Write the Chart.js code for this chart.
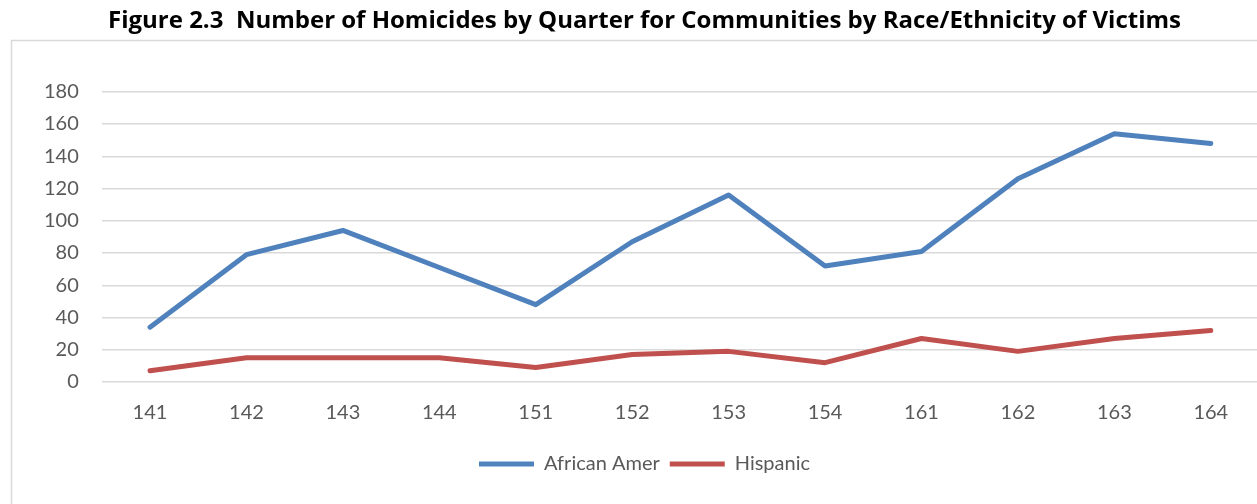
<!DOCTYPE html>
<html>
<head>
<meta charset="utf-8">
<script src="https://cdn.jsdelivr.net/npm/chart.js@4.4.1/dist/chart.umd.min.js"></script>
<style>
  html, body { margin: 0; padding: 0; overflow: hidden; background: #fff; }
  #wrap { width: 1262px; height: 504px; }
</style>
</head>
<body>
<div id="wrap"><canvas id="lineChart" width="1262" height="504"></canvas></div>
<script>
var quarters = ["141", "142", "143", "144", "151", "152", "153", "154", "161", "162", "163", "164"];
var africanAmer = [34, 79, 94, 71, 48, 87, 116, 72, 81, 126, 154, 148];
var hispanic = [7, 15, 15, 15, 9, 17, 19, 12, 27, 19, 27, 32];
var yTicks = [0, 20, 40, 60, 80, 100, 120, 140, 160, 180];

var frame = {
    id: "frame",
    beforeDraw: function(chart) {
        var ctx = chart.ctx;
        ctx.save();
        ctx.strokeStyle = "#d9d9d9";
        ctx.lineWidth = 1.5;
        ctx.strokeRect(11.5, 40.5, 1300, 500);
        ctx.restore();
    }
};

document.addEventListener("DOMContentLoaded", function() {
    var ctx1 = document.getElementById("lineChart").getContext("2d");
    var lineChart = new Chart(ctx1, {
        type: "line",
        data: {
            labels: quarters,
            datasets: [{
                label: "African Amer",
                data: africanAmer,
                borderColor: "#4f81bd",
                backgroundColor: "#4f81bd",
                borderWidth: 5,
                borderCapStyle: "round",
                borderJoinStyle: "round",
                pointRadius: 0,
                pointStyle: "line",
                tension: 0
            }, {
                label: "Hispanic",
                data: hispanic,
                borderColor: "#c0504d",
                backgroundColor: "#c0504d",
                borderWidth: 5,
                borderCapStyle: "round",
                borderJoinStyle: "round",
                pointRadius: 0,
                pointStyle: "line",
                tension: 0
            }]
        },
        options: {
            responsive: false,
            animation: false,
            layout: { padding: { left: 30, right: 3, top: 0, bottom: 20 } },
            plugins: {
                title: {
                    display: true,
                    text: "Figure 2.3  Number of Homicides by Quarter for Communities by Race/Ethnicity of Victims",
                    color: "#000",
                    font: { family: "Open Sans", size: 24, weight: "bold" },
                    padding: { top: 7, bottom: 56 }
                },
                legend: {
                    position: "bottom",
                    labels: {
                        usePointStyle: true,
                        pointStyleWidth: 55,
                        color: "#595959",
                        font: { family: "Lato", size: 20 },
                        padding: 10
                    }
                },
                tooltip: { enabled: false }
            },
            scales: {
                x: {
                    offset: true,
                    grid: { display: false, drawTicks: false },
                    border: { display: false },
                    ticks: {
                        color: "#595959",
                        font: { family: "Lato", size: 20 },
                        padding: 19,
                        maxRotation: 0
                    },
                    afterFit: function(axis) { axis.height = 62; }
                },
                y: {
                    min: 0,
                    max: 180,
                    grid: { color: "#d9d9d9", lineWidth: 1.5, drawTicks: false },
                    border: { display: false },
                    ticks: {
                        color: "#595959",
                        font: { family: "Lato", size: 20 },
                        padding: 23,
                        stepSize: 20
                    },
                    afterBuildTicks: function(axis) {
                        axis.ticks = yTicks.map(function(v) { return { value: v }; });
                    },
                    afterFit: function(axis) { axis.width = 71.8; }
                }
            }
        },
        plugins: [frame]
    });
});
</script>
</body>
</html>
